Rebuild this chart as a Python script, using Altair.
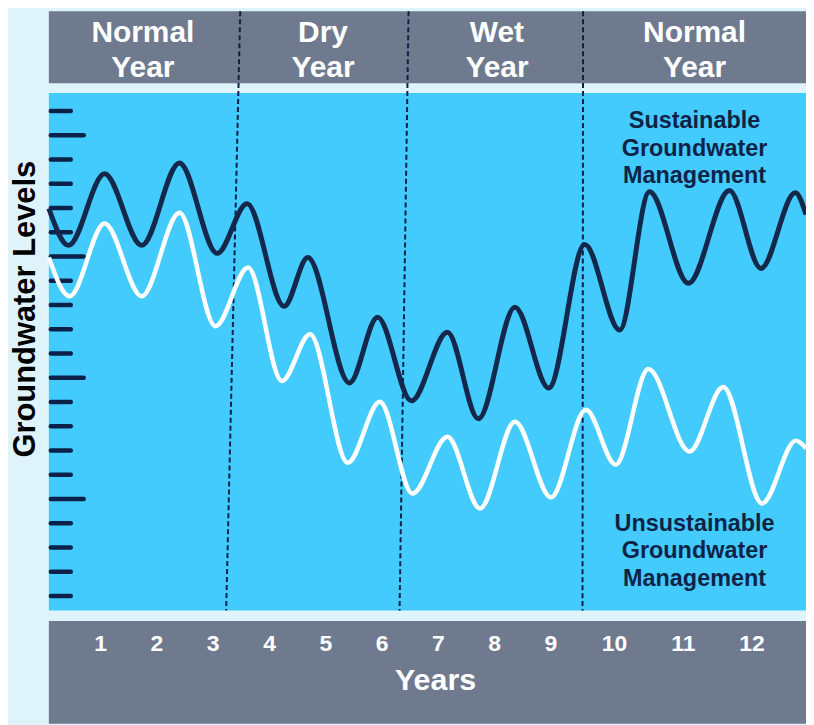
import altair as alt
import pandas as pd

# ---- data (x in "year" units, y in tick-level units) ----
dark_x = [0.08, 0.43, 1.07, 1.73, 2.40, 3.07, 3.60, 4.26, 4.68, 5.42, 5.92, 6.52,
          7.16, 7.71, 8.36, 8.96, 9.60, 10.22, 10.75, 11.44, 12.17, 12.73, 13.34, 13.53]
dark_y = [15.98, 14.46, 17.41, 14.46, 17.86, 14.13, 16.18, 11.95, 13.96, 8.79, 11.50, 8.05,
          10.88, 7.31, 11.91, 8.58, 14.50, 10.97, 16.67, 12.90, 16.72, 13.51, 16.63, 15.73]

white_x = [0.08, 0.45, 1.07, 1.73, 2.40, 3.04, 3.62, 4.22, 4.72, 5.39, 5.96, 6.54,
           7.16, 7.74, 8.36, 9.00, 9.62, 10.15, 10.73, 11.46, 12.06, 12.75, 13.35, 13.53]
white_y = [13.96, 12.36, 15.36, 12.36, 15.81, 11.13, 13.55, 8.87, 10.80, 5.50, 8.01, 4.23,
           6.57, 3.61, 7.19, 4.07, 7.68, 5.42, 9.36, 5.96, 8.62, 3.82, 6.41, 6.10]

tick_levels = list(range(0, 21))
long_tick_levels = [4, 9, 14, 19]

period_labels = ["Normal\nYear", "Dry\nYear", "Wet\nYear", "Normal\nYear"]
period_label_x = [1.75, 4.95, 8.04, 11.55]

boundary_top_x = [3.48, 6.47, 9.57]
boundary_bottom_x = [3.23, 6.31, 9.56]

year_labels = ["1", "2", "3", "4", "5", "6", "7", "8", "9", "10", "11", "12"]
year_label_x = [1, 2, 3, 4, 5, 6, 7, 8, 9, 10.13, 11.35, 12.57]

series_labels = ["Sustainable\nGroundwater\nManagement", "Unsustainable\nGroundwater\nManagement"]
series_label_x = [11.55, 11.55]
series_label_y = [19.29, 2.68]

# ---- layout constants ----
X_MIN, X_MAX = 0.08, 13.53
Y_MIN, Y_MAX = -5.26, 24.11
HEADER = (21.15, Y_MAX)
PLOT = (-0.59, 20.74)
FOOTER = (Y_MIN, -1.03)

BG = "#dff3fa"
CYAN = "#44cbfe"
GRAY = "#6f7a8f"
NAVY = "#13284b"
FONT = "Liberation Sans"

xs = alt.Scale(domain=[X_MIN, X_MAX], nice=False, zero=False)
ys = alt.Scale(domain=[Y_MIN, Y_MAX], nice=False, zero=False)
X = lambda: alt.X("x:Q", scale=xs, axis=None)
Y = lambda: alt.Y("y:Q", scale=ys, axis=None)

bands = pd.DataFrame({
    "x": [X_MIN] * 3, "x2": [X_MAX] * 3,
    "y": [HEADER[0], PLOT[0], FOOTER[0]],
    "y2": [HEADER[1], PLOT[1], FOOTER[1]],
    "fill": [GRAY, CYAN, GRAY],
})
band_layer = alt.Chart(bands).mark_rect().encode(
    x=X(), x2="x2", y=Y(), y2="y2", color=alt.Color("fill:N", scale=None),
)

ticks = pd.DataFrame({"y": tick_levels, "long": [v in long_tick_levels for v in tick_levels]})
tick_short = alt.Chart(ticks[~ticks["long"]]).mark_rule(
    color="#0b2149", strokeWidth=4.5, strokeCap="round").encode(
    y=Y(), x=alt.value(2), x2=alt.value(22))
tick_long = alt.Chart(ticks[ticks["long"]]).mark_rule(
    color="#0b2149", strokeWidth=4.5, strokeCap="round").encode(
    y=Y(), x=alt.value(2), x2=alt.value(35))

bounds = pd.DataFrame({
    "x": boundary_top_x, "x2": boundary_bottom_x,
    "y": [HEADER[1]] * 3, "y2": [PLOT[0]] * 3,
})
bound_layer = alt.Chart(bounds).mark_rule(color="#0c2148", strokeWidth=2, strokeDash=[5, 3]).encode(
    x=X(), x2="x2", y=Y(), y2="y2",
)

dark = pd.DataFrame({"x": dark_x, "y": dark_y})
white = pd.DataFrame({"x": white_x, "y": white_y})
white_layer = alt.Chart(white).mark_line(color="#ffffff", strokeWidth=4.5, interpolate="monotone").encode(
    x=X(), y=Y(), order="x:Q")
dark_layer = alt.Chart(dark).mark_line(color=NAVY, strokeWidth=5, interpolate="monotone").encode(
    x=X(), y=Y(), order="x:Q")

periods = pd.DataFrame({"label": period_labels, "x": period_label_x, "y": [22.83] * 4})
period_layer = alt.Chart(periods).mark_text(
    font=FONT, fontSize=30, fontWeight="bold", color="white", align="center",
    baseline="alphabetic", lineBreak="\n", lineHeight=35,
).encode(x=X(), y=Y(), text="label:N")

series = pd.DataFrame({"label": series_labels, "x": series_label_x, "y": series_label_y})
series_layer = alt.Chart(series).mark_text(
    font=FONT, fontSize=23.5, fontWeight="bold", color="#0f2347", align="center",
    baseline="alphabetic", lineBreak="\n", lineHeight=27.5,
).encode(x=X(), y=Y(), text="label:N")

years = pd.DataFrame({"label": year_labels, "x": year_label_x, "y": [-2.26] * 12})
year_layer = alt.Chart(years).mark_text(
    font=FONT, fontSize=23, fontWeight="bold", color="white", align="center", baseline="alphabetic",
).encode(x=X(), y=Y(), text="label:N")

xtitle = pd.DataFrame({"label": ["Years"], "x": [6.95], "y": [-3.86]})
xtitle_layer = alt.Chart(xtitle).mark_text(
    font=FONT, fontSize=30.5, fontWeight="bold", color="white", align="center", baseline="alphabetic",
).encode(x=X(), y=Y(), text="label:N")

ytitle = pd.DataFrame({"label": ["Groundwater Levels"], "x": [-0.33], "y": [11.83]})
ytitle_layer = alt.Chart(ytitle).mark_text(
    font=FONT, fontSize=31, fontWeight="bold", color="black", align="center", baseline="middle", angle=270,
).encode(x=X(), y=Y(), text="label:N")

chart = alt.layer(
    band_layer, tick_short, tick_long, bound_layer, white_layer, dark_layer,
    period_layer, series_layer, year_layer, xtitle_layer, ytitle_layer,
).properties(
    width=760, height=715,
    padding={"left": 41, "top": 2, "right": 0, "bottom": 0},
    autosize=alt.AutoSizeParams(type="none"),
    background=BG,
).configure_view(stroke=None)

chart.save("out.html", embed_options={"renderer": "svg", "actions": False})
